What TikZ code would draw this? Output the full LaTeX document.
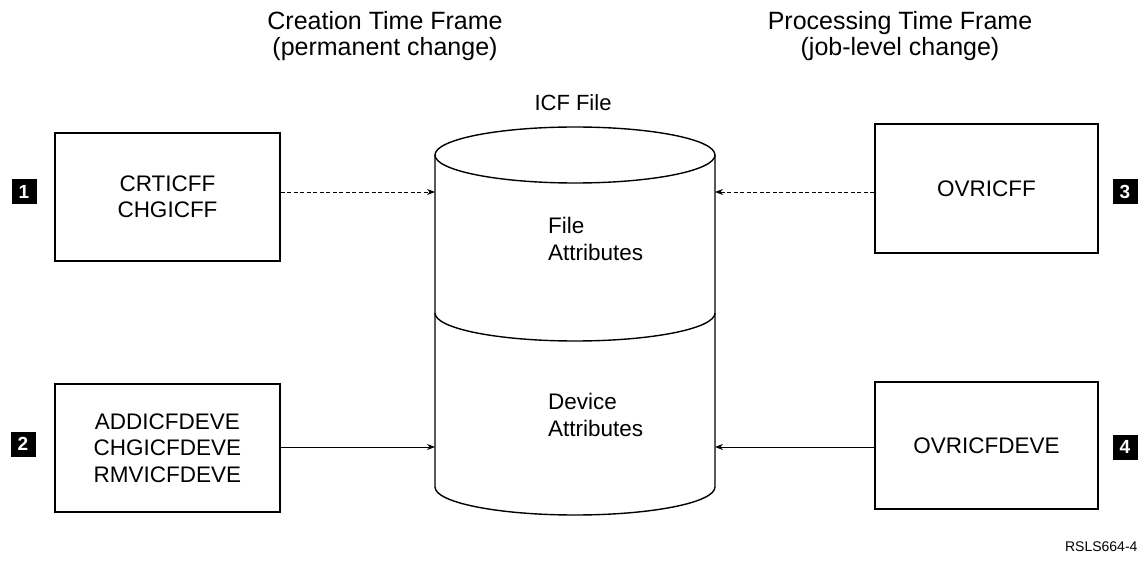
\documentclass[tikz,border=0pt]{standalone}
\usepackage{fontspec}
\setmainfont{Liberation Sans}
\usetikzlibrary{arrows.meta}

\tikzset{
  prog/.style={draw, line width=1.3pt, minimum width=225pt, minimum height=128pt,
    inner sep=0pt, align=center, font=\fontsize{22.5}{26.5}\selectfont},
  badge/.style={fill=black, text=white, minimum size=25pt, inner sep=0pt,
    font=\fontsize{19}{19}\selectfont\bfseries},
  heading/.style={align=center, font=\fontsize{25}{25.5}\selectfont},
  inlabel/.style={align=left, anchor=north west, inner sep=0pt,
    font=\fontsize{22.5}{27}\selectfont},
  cyl/.style={line width=1.4pt},
  feed/.style={line width=0.8pt, -{Stealth[length=8pt,width=6pt]}},
  feeddash/.style={feed, dash pattern=on 4pt off 2.5pt},
}

\begin{document}
\begin{tikzpicture}[x=1pt,y=-1pt]
\useasboundingbox (0,0) rectangle (1144,561);

% column headings
\node[heading] (hcre) at (385,36) {Creation Time Frame\\(permanent change)};
\node[heading] (hpro) at (900,36) {Processing Time Frame\\(job-level change)};

% ICF file drawn as a cylinder
\node[font=\fontsize{22}{22}\selectfont] (icf) at (573,103) {ICF File};
\draw[cyl] (575,155) ellipse [x radius=140pt, y radius=28pt];
\draw[cyl] (435,155) -- (435,487)
  arc[start angle=180, end angle=360, x radius=140pt, y radius=28pt] -- (715,155);
\draw[cyl] (435,313) arc[start angle=180, end angle=360, x radius=140pt, y radius=28pt];

\node[inlabel] (fattr) at (548,217) {File\\Attributes};
\node[inlabel] (dattr) at (548,393) {Device\\Attributes};

% connector ends on the cylinder wall
\coordinate (inA) at (435,192);
\coordinate (inB) at (435,447);
\coordinate (inC) at (715,192);
\coordinate (inD) at (715,447);

% command boxes
\node[prog] (b1) at (167.5,197) {CRTICFF\\CHGICFF};
\node[prog] (b2) at (167.5,448) {ADDICFDEVE\\CHGICFDEVE\\RMVICFDEVE};
\node[prog, minimum width=223pt, minimum height=129pt] (b3) at (986.5,188.5) {OVRICFF};
\node[prog, minimum width=223pt, minimum height=127pt] (b4) at (986.5,445.5) {OVRICFDEVE};

% numbered badges
\node[badge] (n1) at (24,192) {1};
\node[badge] (n2) at (23,444) {2};
\node[badge] (n3) at (1125,192) {3};
\node[badge] (n4) at (1125,447) {4};

% connectors
\draw[feeddash] (b1.east |- inA) -- (inA);
\draw[feed] (b2.east |- inB) -- (inB);
\draw[feeddash] (b3.west |- inC) -- (inC);
\draw[feed] (b4.west |- inD) -- (inD);

% figure id
\node[anchor=east, font=\fontsize{14}{14}\selectfont] (fid) at (1141,547) {RSLS664-4};
\end{tikzpicture}
\end{document}
